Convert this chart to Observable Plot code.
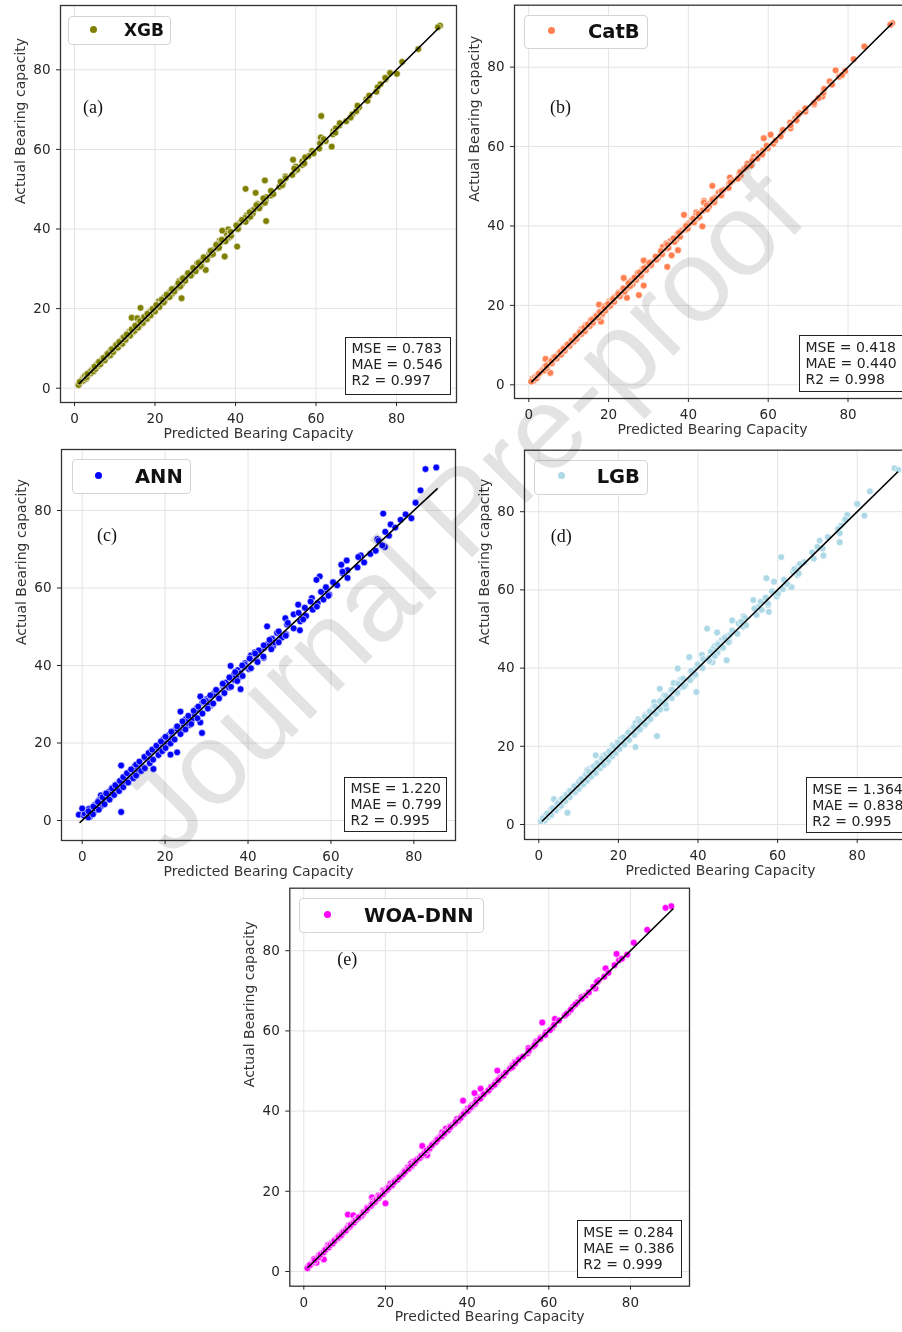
<!DOCTYPE html>
<html><head><meta charset="utf-8">
<script src="https://cdn.jsdelivr.net/npm/d3@7"></script>
<script src="https://cdn.jsdelivr.net/npm/@observablehq/plot@0.6"></script>
<style>
html,body{margin:0;padding:0;background:#fff;}
body{width:902px;height:1332px;overflow:hidden;position:relative;}
#page{position:absolute;left:0;top:0;width:902px;height:1332px;overflow:hidden;background:#fff;}
.legend{position:absolute;box-sizing:border-box;border:1px solid #d4d4d4;border-radius:4px;background:#fff;}
.ldot{position:absolute;border-radius:50%;}
.ltext{position:absolute;font-family:"DejaVu Sans",sans-serif;font-weight:bold;color:#111;line-height:1;white-space:nowrap;}
.stats{position:absolute;box-sizing:border-box;border:1.5px solid #222;background:#fff;font-family:"DejaVu Sans",sans-serif;font-size:14px;line-height:16px;color:#222;white-space:pre;padding:2.5px 0 0 5.5px;}
.tag{position:absolute;font-family:"Liberation Serif",serif;font-size:18px;color:#111;line-height:1;white-space:nowrap;}
#wm{position:absolute;left:462px;top:510px;transform:translate(-50%,-50%) rotate(-45deg);font-family:"Liberation Sans",sans-serif;font-size:117px;line-height:1;color:#e3e3e3;mix-blend-mode:multiply;white-space:nowrap;pointer-events:none;}
</style></head>
<body><div id="page"></div>
<script>
// ---------------- data ----------------
const models = ["XGB", "CatB", "ANN", "LGB", "WOA-DNN"];
const colors = ["#808000", "#ff7f50", "#0000ff", "#add8e6", "#ff00ff"];
const tags = ["(a)", "(b)", "(c)", "(d)", "(e)"];
const mse = ["0.783", "0.418", "1.220", "1.364", "0.284"];
const mae = ["0.546", "0.440", "0.799", "0.838", "0.386"];
const r2 = ["0.997", "0.998", "0.995", "0.995", "0.999"];
const fitStart = [1.2, 0.8, -0.5, 0.9, 1.0];
const fitEnd = [90.5, 91.0, 85.6, 90.1, 90.4];
const ticks = [0, 20, 40, 60, 80];
const xLabel = "Predicted Bearing Capacity";
const yLabel = "Actual Bearing capacity";

const actual = [
91.1, 90.7, 85.2, 82.0, 79.0, 79.2, 77.6, 76.4, 75.6, 72.6,
72.2, 70.6, 68.8, 68.4, 67.1, 66.0, 64.6, 63.0, 62.1, 60.7,
59.6, 58.3, 57.4, 56.1, 55.7, 54.4, 53.2, 52.2, 51.4, 50.1,
49.1, 48.4, 47.2, 46.3, 45.6, 44.5, 43.4, 42.6, 42.0, 41.5,
40.6, 39.9, 42.8, 38.8, 38.0, 37.0, 36.2, 35.6, 34.7, 33.9,
33.1, 32.6, 31.3, 30.5, 29.7, 29.0, 28.1, 27.3, 26.9, 25.9,
25.3, 25.0, 24.1, 23.3, 22.6, 22.0, 21.9, 21.0, 20.2, 19.8,
19.0, 18.5, 17.7, 17.6, 17.0, 16.2, 15.9, 15.0, 14.2, 14.0,
13.3, 12.6, 12.0, 11.4, 10.7, 10.0, 9.6, 9.0, 8.4, 7.8,
7.2, 6.8, 6.5, 5.9, 5.2, 4.6, 4.0, 3.4, 3.0, 2.6,
2.2, 2.0, 1.5, 1.3, 1.0, 1.8, 3.7, 4.3, 5.5, 6.2,
7.5, 8.1, 8.8, 9.3, 10.3, 11.0, 11.8, 12.3, 13.0, 13.7,
14.6, 15.4, 16.6, 17.3, 18.0, 18.9, 19.5, 20.6, 21.4, 22.8,
23.7, 24.6, 26.2, 27.8, 28.6, 30.0, 30.9, 31.8, 33.5, 34.3,
35.1, 36.6, 37.6, 39.1, 40.2, 41.0, 43.9, 44.9, 46.9, 48.0,
50.6, 52.8, 54.9, 57.0, 59.0, 61.5, 63.8, 65.3, 69.6, 73.5,
39.6, 3.1, 29.8, 13.9, 45.9, 32.0,
0.8, 1.6, 2.4, 2.8, 3.6, 4.2, 4.8, 5.4, 6.0, 6.6,
7.0, 7.6, 8.3, 8.6, 9.1, 9.8, 10.2, 10.9, 11.2, 11.6,
12.2, 12.8, 13.2, 13.5, 14.4, 14.8, 15.2, 15.7, 16.4, 16.9,
17.4, 17.9, 18.3, 18.7, 19.3, 19.9, 20.4, 20.9, 21.6, 22.3,
22.9, 23.5, 24.3, 24.9, 25.6, 26.4, 27.0, 27.6, 28.3, 28.9,
29.4, 30.2, 30.7, 31.5, 32.3, 32.9, 33.7, 34.5, 35.3, 36.0,
36.9, 37.3, 38.3, 39.3, 40.0, 40.9, 41.8, 42.3, 43.1, 44.2,
45.2, 46.0, 46.6, 47.7, 48.8, 49.6, 51.0, 51.9, 53.6, 55.2,
56.5, 58.0, 60.2, 62.6, 64.2, 66.6, 68.0, 71.0, 74.5, 78.0
];

const xgbPred = [
90.8, 90.3, 85.4, 81.4, 80.1, 78.4, 77.3, 76.0, 75.3, 72.5,
72.8, 70.7, 69.0, 61.3, 67.5, 65.8, 64.3, 61.2, 62.4, 63.9,
59.0, 58.1, 54.3, 56.6, 55.0, 54.6, 52.4, 47.3, 51.8, 42.5,
45.0, 48.8, 47.5, 45.5, 45.8, 43.9, 42.8, 43.0, 47.6, 41.0,
40.4, 38.2, 42.4, 37.8, 38.6, 36.0, 35.4, 40.4, 34.2, 33.5,
37.3, 32.0, 30.5, 31.1, 32.6, 28.5, 27.8, 26.8, 26.0, 25.6,
25.7, 24.5, 23.6, 23.9, 26.6, 22.4, 21.0, 20.5, 16.4, 19.6,
18.5, 18.9, 14.2, 15.6, 16.8, 15.8, 16.3, 14.6, 13.6, 14.4,
12.8, 12.0, 12.4, 11.0, 10.2, 10.4, 9.0, 8.6, 8.0, 7.9,
6.8, 6.4, 6.0, 5.5, 4.8, 4.4, 3.6, 3.0, 2.8, 2.2,
1.9, 2.4, 1.4, 1.3, 1.1, 2.0, 4.0, 4.1, 5.8, 6.5,
7.1, 8.4, 9.2, 9.6, 10.0, 11.5, 11.3, 12.7, 13.4, 13.2,
15.0, 15.0, 16.9, 17.0, 18.4, 19.3, 19.0, 21.0, 21.9, 22.3,
24.2, 24.0, 26.7, 27.2, 29.1, 29.5, 31.5, 31.2, 34.0, 33.8,
35.6, 36.2, 38.0, 38.7, 40.7, 40.5, 44.3, 44.6, 47.2, 47.6,
50.9, 52.5, 55.3, 56.6, 59.4, 61.0, 64.2, 64.9, 70.0, 73.2,
36.7, 2.6, 29.4, 14.0, 46.2, 31.6,
1.0, 1.3, 2.9, 3.1, 3.2, 4.7, 5.2, 5.0, 6.4, 6.1,
7.5, 7.2, 8.9, 8.2, 9.6, 9.3, 10.8, 10.4, 11.9, 11.1,
12.7, 12.3, 13.8, 13.0, 14.9, 14.2, 15.8, 15.1, 17.0, 16.3,
18.0, 17.3, 18.9, 18.1, 20.0, 19.4, 21.1, 20.3, 22.2, 21.7,
23.6, 22.9, 24.8, 24.2, 26.3, 25.8, 27.5, 26.9, 28.9, 28.2,
30.1, 29.5, 31.4, 30.8, 32.9, 32.1, 34.4, 33.8, 35.9, 35.2,
37.5, 36.6, 38.9, 38.8, 40.6, 40.2, 42.5, 41.6, 43.7, 43.5,
45.9, 45.2, 47.3, 46.9, 49.4, 48.8, 51.6, 51.2, 54.1, 54.6,
57.1, 57.3, 60.8, 61.9, 64.8, 65.9, 68.6, 70.3, 75.0, 77.2
];

const catbPred = [
91.1, 90.6, 84.1, 81.4, 79.3, 76.9, 77.8, 75.4, 76.0, 73.6,
72.6, 71.5, 69.3, 67.9, 66.8, 65.5, 65.6, 60.6, 58.9, 61.3,
59.9, 57.6, 56.4, 55.8, 54.8, 54.0, 52.8, 50.4, 51.0, 46.0,
48.8, 47.6, 46.7, 43.9, 45.2, 44.6, 42.0, 41.9, 42.4, 40.8,
40.0, 43.5, 38.9, 38.3, 37.3, 36.8, 35.5, 34.5, 33.6, 37.4,
33.0, 35.8, 28.8, 30.3, 34.7, 28.4, 27.3, 28.0, 23.8, 25.3,
26.0, 28.8, 24.5, 22.6, 27.6, 21.4, 24.6, 20.2, 17.6, 19.0,
18.8, 18.0, 17.3, 18.3, 16.5, 15.5, 18.1, 14.3, 14.0, 13.2,
12.9, 12.2, 11.6, 11.2, 10.8, 9.6, 9.2, 8.8, 8.1, 7.4,
7.0, 6.2, 4.2, 5.6, 4.9, 4.0, 3.8, 3.2, 5.4, 2.5,
1.8, 2.2, 0.9, 1.3, 1.2, 1.5, 3.4, 4.6, 5.2, 6.0,
7.7, 7.8, 8.5, 9.0, 10.5, 10.6, 12.1, 11.9, 12.6, 14.2,
14.3, 15.9, 16.2, 17.7, 17.6, 18.6, 19.8, 20.3, 21.0, 23.1,
23.4, 25.0, 25.8, 28.2, 28.3, 30.4, 30.6, 32.2, 33.2, 34.6,
34.9, 37.0, 37.4, 39.4, 40.0, 41.3, 43.6, 45.2, 46.6, 48.3,
50.2, 53.1, 54.6, 57.3, 58.7, 61.8, 63.5, 65.6, 69.3, 73.8,
39.2, 2.9, 29.5, 13.6, 43.9, 32.4,
0.6, 1.9, 2.2, 2.5, 3.9, 4.5, 4.4, 5.8, 5.7, 7.0,
6.6, 8.1, 7.9, 9.0, 8.7, 10.2, 9.8, 11.3, 10.8, 12.0,
11.7, 13.2, 12.8, 14.0, 13.9, 15.3, 14.8, 16.1, 15.9, 17.4,
17.0, 18.4, 17.8, 19.2, 18.9, 20.4, 19.9, 21.4, 21.1, 22.8,
22.4, 24.0, 23.7, 25.4, 25.0, 26.9, 26.5, 28.1, 27.8, 29.4,
28.9, 30.7, 30.2, 32.0, 31.8, 33.4, 33.1, 35.0, 34.7, 36.5,
36.3, 37.9, 37.7, 39.8, 39.4, 41.4, 41.2, 42.8, 42.5, 44.7,
44.6, 46.5, 46.0, 48.2, 48.3, 50.1, 50.5, 52.4, 53.0, 55.7,
56.0, 58.5, 59.6, 63.1, 63.7, 67.1, 67.5, 71.5, 74.0, 78.5
];

const annPred = [
85.4, 82.8, 81.6, 80.4, 78.0, 72.6, 76.8, 74.4, 75.5, 71.2,
71.5, 73.0, 69.5, 67.2, 63.8, 62.5, 64.0, 57.3, 56.5, 61.5,
58.8, 59.6, 55.4, 56.8, 52.1, 55.6, 51.0, 49.0, 52.6, 44.6,
52.5, 47.0, 48.2, 45.7, 44.8, 43.8, 41.6, 40.7, 43.8, 42.0,
39.3, 35.8, 42.0, 37.5, 38.2, 35.8, 36.8, 34.6, 34.0, 38.2,
32.2, 31.6, 30.0, 29.0, 31.0, 27.6, 23.7, 27.0, 25.6, 26.4,
28.5, 24.3, 23.0, 22.4, 28.9, 20.9, 21.6, 19.6, 20.0, 18.8,
18.0, 17.2, 16.4, 22.9, 21.3, 15.0, 16.8, 13.8, 9.4, 13.0,
17.2, 11.6, 12.8, 10.5, 11.4, 9.0, 10.2, 8.0, 7.2, 8.6,
6.1, 5.5, 4.5, 6.8, 4.0, 5.2, 3.0, 2.4, 1.6, 3.2,
9.4, 1.0, -0.8, 0.4, 1.9, 0.6, 4.5, 3.6, 6.3, 7.0,
6.6, 9.0, 7.8, 8.4, 11.2, 12.0, 11.0, 13.4, 12.2, 14.8,
13.6, 16.4, 15.6, 18.4, 19.0, 17.8, 20.6, 21.6, 20.4, 23.9,
22.8, 25.8, 25.0, 28.9, 27.5, 31.2, 29.8, 33.0, 32.5, 35.4,
34.0, 37.6, 36.6, 40.2, 39.2, 42.2, 42.6, 46.0, 45.8, 49.2,
49.4, 54.0, 53.7, 58.2, 57.6, 60.5, 62.8, 66.4, 70.8, 74.0,
39.0, 0.0, 30.5, 12.6, 46.5, 28.5,
1.5, 2.6, 1.5, 4.0, 2.7, 5.4, 3.8, 6.6, 4.9, 7.7,
5.8, 8.9, 7.2, 9.9, 8.0, 11.1, 9.1, 12.3, 9.9, 13.0,
10.8, 14.2, 11.8, 15.1, 13.0, 16.3, 13.8, 17.1, 15.0, 18.4,
16.0, 19.3, 16.9, 20.1, 17.9, 21.3, 19.0, 22.3, 20.1, 23.7,
21.5, 24.9, 22.9, 26.3, 24.2, 27.8, 25.6, 29.0, 26.9, 30.3,
28.0, 31.6, 29.3, 33.0, 30.9, 34.3, 32.3, 35.9, 33.9, 37.4,
35.5, 38.7, 36.9, 40.7, 38.6, 42.3, 40.4, 43.7, 41.7, 45.6,
43.8, 47.4, 45.2, 49.1, 47.4, 51.0, 49.6, 53.3, 52.2, 56.6,
55.1, 59.4, 58.8, 64.0, 62.8, 68.0, 66.6, 72.4, 73.1, 79.4
];

const lgbPred = [
89.4, 90.3, 83.2, 80.0, 81.8, 77.5, 76.8, 75.9, 75.2, 70.6,
75.6, 71.3, 71.5, 60.9, 66.7, 65.2, 63.9, 57.2, 59.1, 63.5,
58.6, 59.8, 53.9, 57.6, 55.2, 57.8, 51.5, 48.6, 50.2, 42.3,
44.8, 47.9, 46.0, 45.1, 44.2, 45.0, 41.0, 42.8, 47.2, 43.6,
40.2, 34.9, 37.8, 38.2, 38.9, 35.6, 33.9, 36.8, 30.4, 39.6,
31.5, 32.1, 29.0, 30.9, 32.0, 28.0, 26.8, 27.5, 25.0, 24.3,
26.4, 24.8, 23.1, 22.5, 29.7, 21.6, 20.6, 19.7, 18.5, 24.3,
19.2, 17.9, 14.3, 16.2, 17.4, 15.6, 17.2, 14.0, 12.8, 13.5,
13.8, 11.8, 12.6, 10.9, 11.5, 9.4, 10.3, 8.5, 7.6, 8.2,
6.6, 7.2, 3.8, 5.1, 4.6, 4.9, 3.2, 3.6, 7.2, 2.0,
1.6, 2.6, 1.2, 0.9, 1.5, 2.2, 3.0, 5.0, 6.0, 5.6,
8.0, 7.5, 9.4, 8.7, 9.8, 10.3, 12.4, 11.6, 14.1, 13.0,
15.4, 14.6, 17.3, 16.4, 18.8, 18.1, 20.3, 19.8, 22.3, 22.0,
24.6, 23.7, 27.2, 26.9, 29.6, 28.8, 32.0, 30.7, 34.6, 33.2,
36.0, 35.8, 38.5, 38.2, 41.1, 40.0, 44.9, 43.8, 47.9, 46.9,
51.3, 51.8, 56.0, 55.8, 60.1, 62.4, 65.0, 64.2, 68.7, 72.6,
39.0, 2.8, 29.2, 12.2, 45.6, 31.8,
0.5, 1.0, 3.1, 2.1, 4.3, 3.5, 5.6, 4.7, 6.7, 5.9,
7.8, 6.9, 9.1, 7.9, 10.0, 9.0, 11.1, 10.1, 12.1, 10.7,
13.1, 11.9, 14.3, 12.5, 15.4, 13.8, 16.3, 14.7, 17.5, 15.9,
18.4, 16.9, 19.3, 17.7, 20.3, 18.9, 21.5, 19.9, 22.7, 21.3,
24.0, 22.5, 25.4, 23.9, 26.7, 25.4, 28.1, 26.6, 29.4, 27.9,
30.5, 29.2, 31.8, 30.5, 33.4, 31.9, 34.8, 33.5, 36.4, 35.0,
38.0, 36.3, 39.4, 38.3, 41.1, 39.9, 42.9, 41.3, 44.2, 43.2,
46.3, 45.0, 47.7, 46.7, 49.9, 48.6, 52.1, 50.9, 54.7, 54.2,
57.6, 57.0, 61.3, 61.6, 65.3, 65.6, 69.1, 70.0, 75.6, 77.0
];

const woaPred = [
90.0, 88.6, 84.1, 80.8, 79.2, 76.6, 77.2, 76.1, 73.9, 72.2,
71.8, 71.4, 69.0, 68.0, 67.0, 65.9, 64.8, 61.5, 58.4, 60.8,
59.3, 58.0, 56.9, 56.2, 55.0, 54.8, 53.0, 51.7, 51.1, 47.4,
48.9, 48.1, 47.0, 46.4, 43.3, 41.8, 43.1, 39.0, 42.1, 41.2,
40.1, 39.6, 42.3, 38.7, 37.5, 37.0, 35.8, 34.8, 33.9, 33.6,
32.8, 32.4, 29.0, 30.5, 30.2, 30.2, 27.9, 26.7, 26.2, 25.4,
25.0, 24.6, 23.9, 23.0, 22.2, 21.8, 21.2, 20.6, 19.4, 19.5,
18.3, 16.7, 17.2, 17.0, 20.0, 16.0, 15.5, 14.8, 10.8, 12.1,
13.0, 12.3, 11.8, 11.0, 10.5, 9.8, 9.4, 8.7, 8.2, 7.6,
6.9, 6.5, 5.9, 5.7, 5.0, 4.4, 3.7, 3.3, 4.9, 2.4,
3.1, 2.0, 1.4, 1.2, 0.9, 1.7, 3.8, 4.2, 5.4, 6.3,
7.4, 8.0, 8.9, 9.2, 10.4, 11.1, 11.7, 12.2, 12.9, 13.6,
14.5, 15.3, 16.5, 17.4, 17.9, 18.7, 19.6, 20.4, 21.5, 22.6,
23.8, 24.4, 26.4, 27.6, 28.8, 30.2, 31.0, 31.6, 33.4, 34.4,
35.3, 36.5, 37.8, 39.0, 40.4, 41.1, 43.8, 45.0, 47.0, 47.9,
50.5, 52.6, 55.1, 56.8, 59.1, 61.3, 63.9, 65.4, 69.8, 73.6,
39.4, 2.5, 29.7, 14.2, 45.8, 31.9,
0.9, 1.5, 2.5, 2.7, 3.7, 4.1, 4.9, 5.3, 6.1, 6.5,
7.1, 7.5, 8.4, 8.5, 9.2, 9.7, 10.3, 10.8, 11.3, 11.5,
12.3, 12.7, 13.3, 13.4, 14.5, 14.7, 15.3, 15.6, 16.5, 16.8,
17.5, 17.8, 18.4, 18.6, 19.4, 19.8, 20.5, 20.8, 21.7, 22.2,
23.0, 23.4, 24.4, 24.8, 25.7, 26.3, 27.1, 27.5, 28.4, 28.8,
29.5, 30.1, 30.8, 31.4, 32.4, 32.8, 33.8, 34.4, 35.4, 35.9,
37.0, 37.2, 38.4, 39.2, 40.1, 40.8, 41.9, 42.2, 43.2, 44.1,
45.3, 45.9, 46.7, 47.6, 48.9, 49.5, 51.1, 51.8, 53.7, 55.1,
56.6, 57.9, 60.3, 62.5, 64.3, 66.5, 68.1, 70.9, 74.6, 77.9
];

const preds = [xgbPred, catbPred, annPred, lgbPred, woaPred];

// ---------------- layout (pixels) ----------------
const layout = [
  {left: 0, top: 0, w: 460, h: 445, ml: 60, mt: 5, mr: 4, mb: 43, xd: [-3.48, 94.9], yd: [-3.59, 96.16],
   lg: [68, 16, 103, 29], dot: [93, 29.5], tx: [124, 30], fs: 17, tag: [83, 107], st: [345, 336.7, 106, 58.3]},
  {left: 460, top: 0, w: 455, h: 445, ml: 54, mt: 4.7, mr: 5, mb: 47, xd: [-3.58, 95.66], yd: [-3.45, 95.6],
   lg: [524, 15, 124, 34], dot: [551.7, 30.7], tx: [588, 31], fs: 19.5, tag: [550, 107], st: [799, 335, 110, 56.7]},
  {left: 0, top: 445, w: 460, h: 445, ml: 61, mt: 4, mr: 5, mb: 50, xd: [-4.99, 90.04], yd: [-5.16, 95.74],
   lg: [71.7, 459, 119, 35], dot: [98.3, 475], tx: [135, 476], fs: 19.5, tag: [97, 535.7], st: [344, 776.7, 103.3, 55.6]},
  {left: 460, top: 445, w: 460, h: 445, ml: 64, mt: 4.7, mr: 4, mb: 51, xd: [-3.59, 94.9], yd: [-3.84, 95.73],
   lg: [534, 460, 114, 35], dot: [561.7, 475.7], tx: [596.7, 476.5], fs: 19.5, tag: [550.7, 536.7], st: [805.7, 777, 110, 55.7]},
  {left: 230, top: 865, w: 470, h: 467, ml: 59.3, mt: 22.7, mr: 11, mb: 46.3, xd: [-3.43, 94.46], yd: [-3.67, 95.59],
   lg: [299.3, 898.3, 184.7, 35], dot: [327.3, 914], tx: [364, 915], fs: 19.5, tag: [337.3, 959.3], st: [576.7, 1220, 105.6, 58.3]}
];

const page = document.getElementById("page");
function div(cls, css, text) {
  const d = document.createElement("div");
  if (cls) d.className = cls;
  Object.assign(d.style, css);
  if (text != null) d.textContent = text;
  page.appendChild(d);
  return d;
}

layout.forEach((L, k) => {
  const data = actual.map((a, i) => ({pred: preds[k][i], actual: a}));
  const chart = Plot.plot({
    width: L.w, height: L.h,
    marginTop: L.mt, marginRight: L.mr, marginBottom: L.mb, marginLeft: L.ml,
    x: {domain: L.xd},
    y: {domain: L.yd},
    style: {fontFamily: "'DejaVu Sans', sans-serif", fontSize: "13.5px", color: "#262626", background: "transparent", overflow: "visible"},
    marks: [
      Plot.gridX({ticks: ticks, stroke: "#e4e4e4", strokeOpacity: 1, strokeWidth: 1}),
      Plot.gridY({ticks: ticks, stroke: "#e4e4e4", strokeOpacity: 1, strokeWidth: 1}),
      Plot.dot(data, {x: "pred", y: "actual", r: 3.4, fill: colors[k], fillOpacity: 1, stroke: "white", strokeWidth: 0.6}),
      Plot.line([[fitStart[k], fitStart[k]], [fitEnd[k], fitEnd[k]]], {stroke: "black", strokeWidth: 1.6}),
      Plot.frame({stroke: "#333", strokeWidth: 1.3}),
      Plot.axisX({ticks: ticks, tickSize: 4, tickPadding: 7, label: null}),
      Plot.axisY({ticks: ticks, tickSize: 4, tickPadding: 6, label: null}),
      Plot.text([xLabel], {text: d => d, frameAnchor: "bottom", dy: 35, fontSize: 14, fill: "#333"}),
      Plot.text([yLabel], {text: d => d, frameAnchor: "left", dx: -40, rotate: -90, fontSize: 14, fill: "#333"})
    ]
  });
  chart.style.position = "absolute";
  chart.style.left = L.left + "px";
  chart.style.top = L.top + "px";
  page.appendChild(chart);

  // legend
  div("legend", {left: L.lg[0] + "px", top: L.lg[1] + "px", width: L.lg[2] + "px", height: L.lg[3] + "px"});
  const r = 3.5;
  div("ldot", {left: (L.dot[0] - r) + "px", top: (L.dot[1] - r) + "px", width: 2 * r + "px", height: 2 * r + "px", background: colors[k]});
  div("ltext", {left: L.tx[0] + "px", top: (L.tx[1] - 0.48 * L.fs) + "px", fontSize: L.fs + "px"}, models[k]);
  // panel tag
  div("tag", {left: L.tag[0] + "px", top: (L.tag[1] - 9.5) + "px"}, tags[k]);
  // stats box
  div("stats", {left: L.st[0] + "px", top: L.st[1] + "px", width: L.st[2] + "px", height: L.st[3] + "px"},
      "MSE = " + mse[k] + "\nMAE = " + mae[k] + "\nR2 = " + r2[k]);
});

div(null, {}, null).id = "wm";
document.getElementById("wm").textContent = "Journal Pre-proof";
</script>
</body></html>
